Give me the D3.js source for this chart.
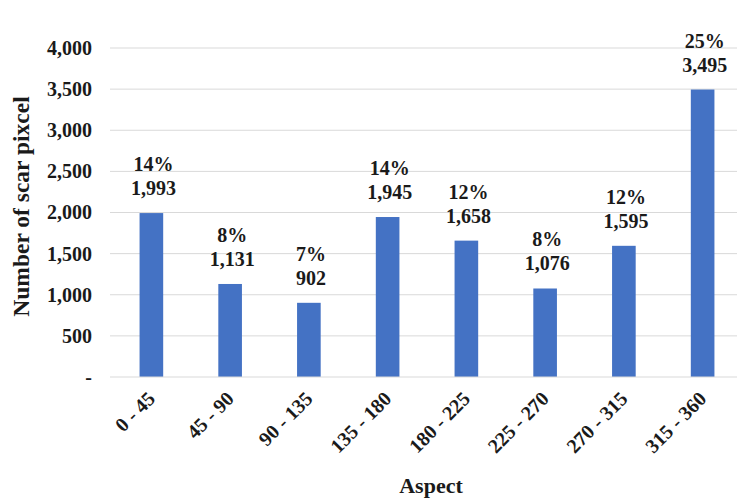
<!DOCTYPE html>
<html>
<head>
<meta charset="utf-8">
<script src="https://cdn.jsdelivr.net/npm/d3@7/dist/d3.min.js"></script>
<style>
  html, body { margin: 0; padding: 0; background: #fff; }
  svg { display: block; }
  text { font-family: "Liberation Serif", "Times New Roman", serif; font-weight: bold; fill: #1a1a1a; }
</style>
</head>
<body>
<svg id="chart" width="737" height="502"></svg>
<script>
// Scar pixel counts by aspect class
const categories = ["0 - 45", "45 - 90", "90 - 135", "135 - 180", "180 - 225", "225 - 270", "270 - 315", "315 - 360"];
const pixelCounts = [1993, 1131, 902, 1945, 1658, 1076, 1595, 3495];
const percentages = [14, 8, 7, 14, 12, 8, 12, 25];
const yTicks = [0, 500, 1000, 1500, 2000, 2500, 3000, 3500, 4000];

const svg = d3.select("#chart");
const plotTop = 48, plotBottom = 377, plotLeft = 112, plotRight = 742;

const x = d3.scaleBand().domain(categories).range([plotLeft, plotRight]).paddingInner(0.7).paddingOuter(0.35);
const y = d3.scaleLinear().domain([0, 4000]).range([plotBottom, plotTop]);

const fmt = d3.format(",");
const FONT = "Liberation Serif, serif";

// Horizontal gridlines
svg.append("g")
  .selectAll("line")
  .data(yTicks.filter(d => d > 0))
  .join("line")
  .attr("x1", plotLeft - 2).attr("x2", 737)
  .attr("y1", d => y(d)).attr("y2", d => y(d))
  .attr("stroke", "#d9d9d9").attr("stroke-width", 1);

// Y axis labels
const yAxis = d3.axisLeft(y).tickValues(yTicks).tickSize(0).tickPadding(0)
  .tickFormat(d => d === 0 ? "-" : fmt(d));
svg.append("g")
  .attr("transform", `translate(${plotLeft - 20},0)`)
  .call(yAxis)
  .call(g => g.select(".domain").remove())
  .call(g => g.selectAll("text").attr("font-size", 20).attr("fill", "#1a1a1a")
    .attr("font-family", FONT).attr("font-weight", "bold"));

// Bars
svg.append("g")
  .selectAll("rect")
  .data(categories)
  .join("rect")
  .attr("x", d => x(d))
  .attr("width", x.bandwidth())
  .attr("y", (d, i) => y(pixelCounts[i]))
  .attr("height", (d, i) => plotBottom - y(pixelCounts[i]))
  .attr("fill", "#4472c4");

// Baseline
svg.append("line")
  .attr("x1", plotLeft - 2).attr("x2", 737)
  .attr("y1", plotBottom).attr("y2", plotBottom)
  .attr("stroke", "#d9d9d9").attr("stroke-width", 1.2);

// Value labels: percentage above count
const labels = svg.append("g")
  .selectAll("g")
  .data(categories)
  .join("g")
  .attr("transform", (d, i) => `translate(${x(d) + x.bandwidth() / 2 + 2},${y(pixelCounts[i])})`);
labels.append("text")
  .attr("text-anchor", "middle").attr("font-size", 20)
  .attr("y", -42)
  .text((d, i) => percentages[i] + "%");
labels.append("text")
  .attr("text-anchor", "middle").attr("font-size", 20)
  .attr("y", -18)
  .text((d, i) => fmt(pixelCounts[i]));

// X axis labels, rotated
const xAxis = d3.axisBottom(x).tickSize(0).tickPadding(0);
svg.append("g")
  .attr("transform", `translate(0,${plotBottom})`)
  .call(xAxis)
  .call(g => g.select(".domain").remove())
  .call(g => g.selectAll("text")
    .attr("font-size", 20).attr("fill", "#1a1a1a")
    .attr("font-family", FONT).attr("font-weight", "bold")
    .attr("text-anchor", "end").attr("dy", null).attr("y", 0)
    .attr("transform", "translate(5,23) rotate(-45)"));

// Axis titles
svg.append("text")
  .attr("text-anchor", "middle").attr("font-size", 22)
  .attr("x", 431).attr("y", 493)
  .text("Aspect");
svg.append("text")
  .attr("text-anchor", "middle").attr("font-size", 23.5)
  .attr("transform", `translate(29,206.5) rotate(-90)`)
  .text("Number of scar pixcel");
</script>
</body>
</html>
